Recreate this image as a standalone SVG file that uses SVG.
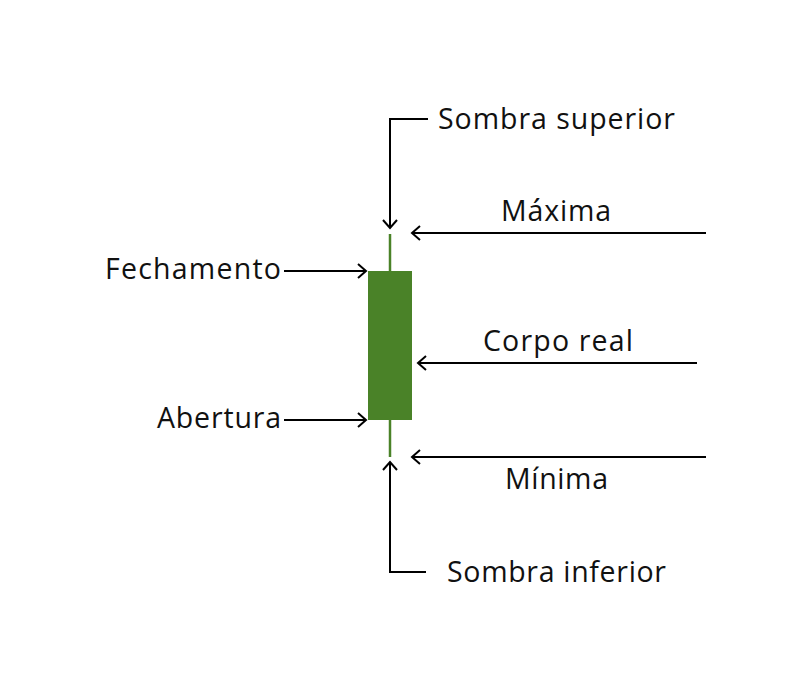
<svg xmlns="http://www.w3.org/2000/svg" width="810" height="692" viewBox="0 0 810 692">
<style>
.t{font-family:"Open Sans","Noto Sans","Liberation Sans",sans-serif;font-size:28.5px;font-weight:400;fill:#111}
.c{fill:none;stroke:#000;stroke-width:2}
.w{stroke:#4a8228;stroke-width:2.5}
</style>
<defs>
<marker id="a" markerUnits="userSpaceOnUse" markerWidth="20" markerHeight="20" viewBox="-10 -10 20 20" refX="0" refY="0" orient="auto">
<path d="M-8,-7 L0,0 L-8,7" fill="none" stroke="#000" stroke-width="2"/>
</marker>
</defs>
<rect width="810" height="692" fill="#fff"/>
<g id="candle">
<line class="w" x1="390" y1="234" x2="390" y2="272"/>
<line class="w" x1="390" y1="419" x2="390" y2="457"/>
<rect x="368" y="271" width="44" height="149" fill="#4a8228"/>
</g>
<g id="connectors">
<polyline class="c" points="428,119 390,119 390,228" marker-end="url(#a)"/>
<line class="c" x1="706" y1="233" x2="412" y2="233" marker-end="url(#a)"/>
<line class="c" x1="284" y1="271" x2="366" y2="271" marker-end="url(#a)"/>
<line class="c" x1="697" y1="363" x2="418" y2="363" marker-end="url(#a)"/>
<line class="c" x1="284" y1="420" x2="366" y2="420" marker-end="url(#a)"/>
<line class="c" x1="706" y1="457" x2="412" y2="457" marker-end="url(#a)"/>
<polyline class="c" points="426,572 390,572 390,462" marker-end="url(#a)"/>
</g>
<g id="sombra-superior"><text class="t" x="438" y="129" textLength="237">Sombra superior</text></g>
<g id="maxima"><text class="t" x="501" y="221" textLength="110">Máxima</text></g>
<g id="fechamento"><text class="t" x="105" y="279" textLength="176">Fechamento</text></g>
<g id="corpo-real"><text class="t" x="483" y="351" textLength="150">Corpo real</text></g>
<g id="abertura"><text class="t" x="157" y="428" textLength="124">Abertura</text></g>
<g id="minima"><text class="t" x="505" y="489" textLength="103">Mínima</text></g>
<g id="sombra-inferior"><text class="t" x="447" y="582" textLength="219">Sombra inferior</text></g>
</svg>
